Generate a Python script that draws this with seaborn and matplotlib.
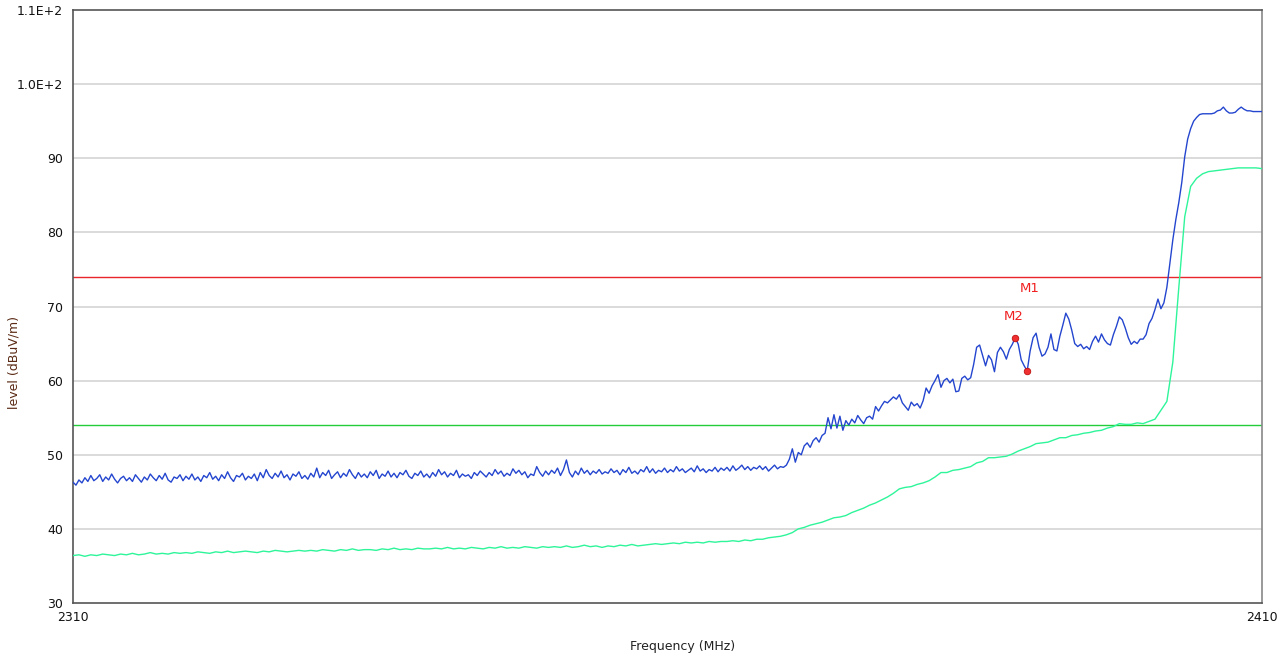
import numpy as np
import pandas as pd
import matplotlib
matplotlib.use("Agg")
import matplotlib.pyplot as plt
import seaborn as sns
from matplotlib.ticker import FuncFormatter

# --- DATA ---
# peak trace, 0.25 MHz sweep steps from 2310 to 2410 MHz (dBuV/m)
peak_level = [
    46.3, 45.9, 46.6, 46.2, 46.9, 46.4, 47.2, 46.5, 46.8, 47.3, 46.4, 47.0, 46.6, 47.4, 46.7, 46.2, 46.8, 47.1, 46.5, 46.9,
    46.4, 47.3, 46.8, 46.3, 47.0, 46.6, 47.4, 46.9, 46.5, 47.2, 46.7, 47.5, 46.6, 46.3, 47.0, 46.8, 47.3, 46.5, 47.1, 46.7,
    47.4, 46.6, 47.0, 46.4, 47.2, 46.9, 47.6, 46.7, 47.1, 46.5, 47.3, 46.8, 47.7, 46.9, 46.4, 47.2, 47.0, 47.5, 46.6, 47.1,
    46.8, 47.4, 46.5, 47.6, 46.9, 48.0, 47.2, 46.8, 47.5, 47.0, 47.8, 46.9, 47.3, 46.6, 47.4, 47.1, 47.7, 46.8, 47.2, 46.7,
    47.5, 47.0, 48.2, 46.9, 47.6, 47.2, 47.9, 46.8, 47.3, 47.7, 46.9, 47.5, 47.1, 48.0, 47.3, 46.8, 47.6, 47.0, 47.4, 46.9,
    47.7, 47.2, 47.9, 46.8, 47.4, 47.1, 47.8, 47.0, 47.5, 46.9, 47.6, 47.3, 47.9, 47.1, 46.8, 47.5, 47.2, 47.8, 47.0, 47.4,
    46.9, 47.6, 47.1, 48.0, 47.3, 47.7, 47.0, 47.5, 47.2, 47.9, 46.9, 47.4, 47.1, 47.3, 46.8, 47.6, 47.2, 47.8, 47.4, 47.0,
    47.6, 47.2, 48.0, 47.4, 47.8, 47.1, 47.5, 47.2, 48.1, 47.5, 47.9, 47.3, 47.7, 46.9, 47.4, 47.2, 48.4, 47.6, 47.1, 47.8,
    47.3, 47.9, 47.5, 48.2, 47.2, 48.0, 49.3, 47.6, 47.0, 47.8, 47.3, 48.2, 47.5, 47.9, 47.3, 47.8, 47.5, 48.0, 47.4, 47.7,
    47.5, 48.1, 47.6, 47.9, 47.3, 48.0, 47.6, 48.3, 47.5, 47.8, 47.4, 48.0, 47.7, 48.4, 47.6, 48.1, 47.5, 47.9, 47.7, 48.2,
    47.6, 48.0, 47.7, 48.4, 47.8, 48.1, 47.6, 47.9, 48.2, 47.7, 48.5, 47.8, 48.1, 47.6, 48.0, 47.8, 48.3, 47.7, 48.2, 47.9,
    48.3, 47.8, 48.5, 47.9, 48.2, 48.6, 48.0, 48.4, 47.9, 48.3, 48.1, 48.5, 48.0, 48.4, 47.8, 48.2, 48.6, 48.1, 48.4, 48.3,
    48.6, 49.4, 50.8, 49.0, 50.3, 50.0, 51.2, 51.6, 51.0, 51.9, 52.3, 51.7, 52.6, 52.9, 55.0, 53.5, 55.4, 53.6, 55.2, 53.3,
    54.6, 54.0, 54.8, 54.3, 55.3, 54.7, 54.2, 55.0, 55.2, 54.8, 56.5, 55.9, 56.6, 57.2, 57.0, 57.4, 57.8, 57.5, 58.1, 57.0,
    56.5, 56.0, 57.1, 56.6, 56.9, 56.3, 57.3, 59.0, 58.3, 59.3, 60.0, 60.8, 59.1, 60.0, 60.3, 59.7, 60.2, 58.5, 58.6, 60.3,
    60.6, 60.1, 60.4, 62.2, 64.5, 64.8, 63.4, 62.0, 63.4, 62.8, 61.2, 63.8, 64.5, 63.9, 62.9, 64.2, 64.9, 65.8, 64.9, 62.8,
    62.0, 61.3, 64.0, 65.8, 66.4, 64.5, 63.3, 63.6, 64.5, 66.3, 64.2, 64.0, 66.0, 67.5, 69.1, 68.3, 66.8, 65.0, 64.6, 64.9,
    64.3, 64.6, 64.2, 65.3, 66.0, 65.2, 66.3, 65.5, 65.0, 64.8, 66.2, 67.3, 68.6, 68.2, 67.1, 65.8, 64.9, 65.3, 65.0, 65.6,
    65.6, 66.2, 67.7, 68.4, 69.6, 71.0, 69.7, 70.5, 72.6, 75.8, 79.0, 81.7, 84.0, 86.7, 90.2, 92.6, 94.0, 95.0, 95.5, 95.9,
    96.0, 96.0, 96.0, 96.0, 96.1, 96.4, 96.5, 96.9, 96.4, 96.1, 96.1, 96.2, 96.6, 96.9, 96.6, 96.4, 96.4, 96.3, 96.3, 96.3,
    96.3,
]

# average trace, 0.5 MHz sweep steps from 2310 to 2410 MHz (dBuV/m)
avg_level = [
    36.4, 36.5, 36.3, 36.5, 36.4, 36.6, 36.5, 36.4, 36.6, 36.5, 36.7, 36.5, 36.6, 36.8, 36.6, 36.7, 36.6, 36.8, 36.7, 36.8,
    36.7, 36.9, 36.8, 36.7, 36.9, 36.8, 37.0, 36.8, 36.9, 37.0, 36.9, 36.8, 37.0, 36.9, 37.1, 37.0, 36.9, 37.0, 37.1, 37.0,
    37.1, 37.0, 37.2, 37.1, 37.0, 37.2, 37.1, 37.3, 37.1, 37.2, 37.2, 37.1, 37.3, 37.2, 37.4, 37.2, 37.3, 37.2, 37.4, 37.3,
    37.3, 37.4, 37.3, 37.5, 37.3, 37.4, 37.3, 37.5, 37.4, 37.3, 37.5, 37.4, 37.6, 37.4, 37.5, 37.4, 37.6, 37.5, 37.4, 37.6,
    37.5, 37.6, 37.5, 37.7, 37.5, 37.6, 37.8, 37.6, 37.7, 37.5, 37.7, 37.6, 37.8, 37.7, 37.9, 37.7, 37.8, 37.9, 38.0, 37.9,
    38.0, 38.1, 38.0, 38.2, 38.1, 38.2, 38.1, 38.3, 38.2, 38.3, 38.3, 38.4, 38.3, 38.5, 38.4, 38.6, 38.6, 38.8, 38.9, 39.0,
    39.2, 39.5, 40.0, 40.2, 40.5, 40.7, 40.9, 41.2, 41.5, 41.6, 41.8, 42.2, 42.5, 42.8, 43.2, 43.5, 43.9, 44.3, 44.8, 45.4,
    45.6, 45.7, 46.0, 46.2, 46.5, 47.0, 47.6, 47.6, 47.9, 48.0, 48.2, 48.4, 48.9, 49.1, 49.6, 49.6, 49.7, 49.8, 50.1, 50.5,
    50.8, 51.1, 51.5, 51.6, 51.7, 52.0, 52.3, 52.3, 52.6, 52.7, 52.9, 53.0, 53.2, 53.3, 53.6, 53.8, 54.2, 54.1, 54.1, 54.3,
    54.2, 54.5, 54.8, 56.0, 57.2, 62.5, 72.5, 82.1, 86.2, 87.3, 87.9, 88.2, 88.3, 88.4, 88.5, 88.6, 88.7, 88.7, 88.7, 88.7,
    88.6,
]

peak_limit = 74
avg_limit = 54

marker_names = ["M1", "M2"]
marker_freq = [2390.25, 2389.25]
marker_level = [61.3, 65.8]

y_ticks = [30, 40, 50, 60, 70, 80, 90, 100, 110]
x_ticks = [2310, 2410]

# --- BUILD FRAMES ---
peak_df = pd.DataFrame({"freq": np.linspace(2310, 2410, len(peak_level)), "level": peak_level})
avg_df = pd.DataFrame({"freq": np.linspace(2310, 2410, len(avg_level)), "level": avg_level})

# --- PLOT ---
sns.set_style("white")
plt.rcParams["font.family"] = ["DejaVu Sans"]

fig = plt.figure(figsize=(12.88, 6.6), dpi=100)
ax = fig.add_axes([73 / 1288, 57 / 660, 1189 / 1288, 593 / 660])

for y in y_ticks[1:-1]:
    ax.axhline(y, color="#d4d4d4", lw=1.2, zorder=0)

ax.axhline(peak_limit, color="#e8262b", lw=1.0, zorder=2)
ax.axhline(avg_limit, color="#22cc3a", lw=1.0, zorder=2)

sns.lineplot(data=avg_df, x="freq", y="level", ax=ax, color="#2ef59a", lw=1.0, zorder=3)
sns.lineplot(data=peak_df, x="freq", y="level", ax=ax, color="#2446cf", lw=1.0, zorder=4)

ax.scatter(marker_freq, marker_level, s=22, color="#f03030", edgecolor="#c01010", lw=0.6, zorder=5)
label_offsets = [(3, 76), (-2, 15)]
for name, fx, fy, off in zip(marker_names, marker_freq, marker_level, label_offsets):
    ax.annotate(name, (fx, fy), xytext=off, textcoords="offset pixels",
                ha="center", va="bottom", color="#f02020", fontsize=9.5)

ax.set_xlim(2310, 2410)
ax.set_ylim(30, 110)
ax.set_xticks(x_ticks)
ax.set_yticks(y_ticks)
ax.yaxis.set_major_formatter(FuncFormatter(
    lambda v, p: "{:.1E}".format(v).replace("E+0", "E+") if v >= 100 else "{:d}".format(int(v))))
ax.tick_params(axis="both", direction="out", length=4, width=1, colors="#333333",
               labelsize=9, labelcolor="#111111", pad=2)
ax.tick_params(axis="y", length=5)

for s in ax.spines.values():
    s.set_color("#555555")
    s.set_linewidth(1.2)
ax.spines["right"].set_color("#888888")

ax.set_xlabel("Frequency (MHz)", fontsize=9, color="#222222")
ax.set_ylabel("level (dBuV/m)", fontsize=9, color="#5a2a14")
ax.xaxis.set_label_coords(0.513, -0.062)
ax.yaxis.set_label_coords(-0.0445, 0.405)

fig.savefig("out.png", dpi=100)
plt.close(fig)
